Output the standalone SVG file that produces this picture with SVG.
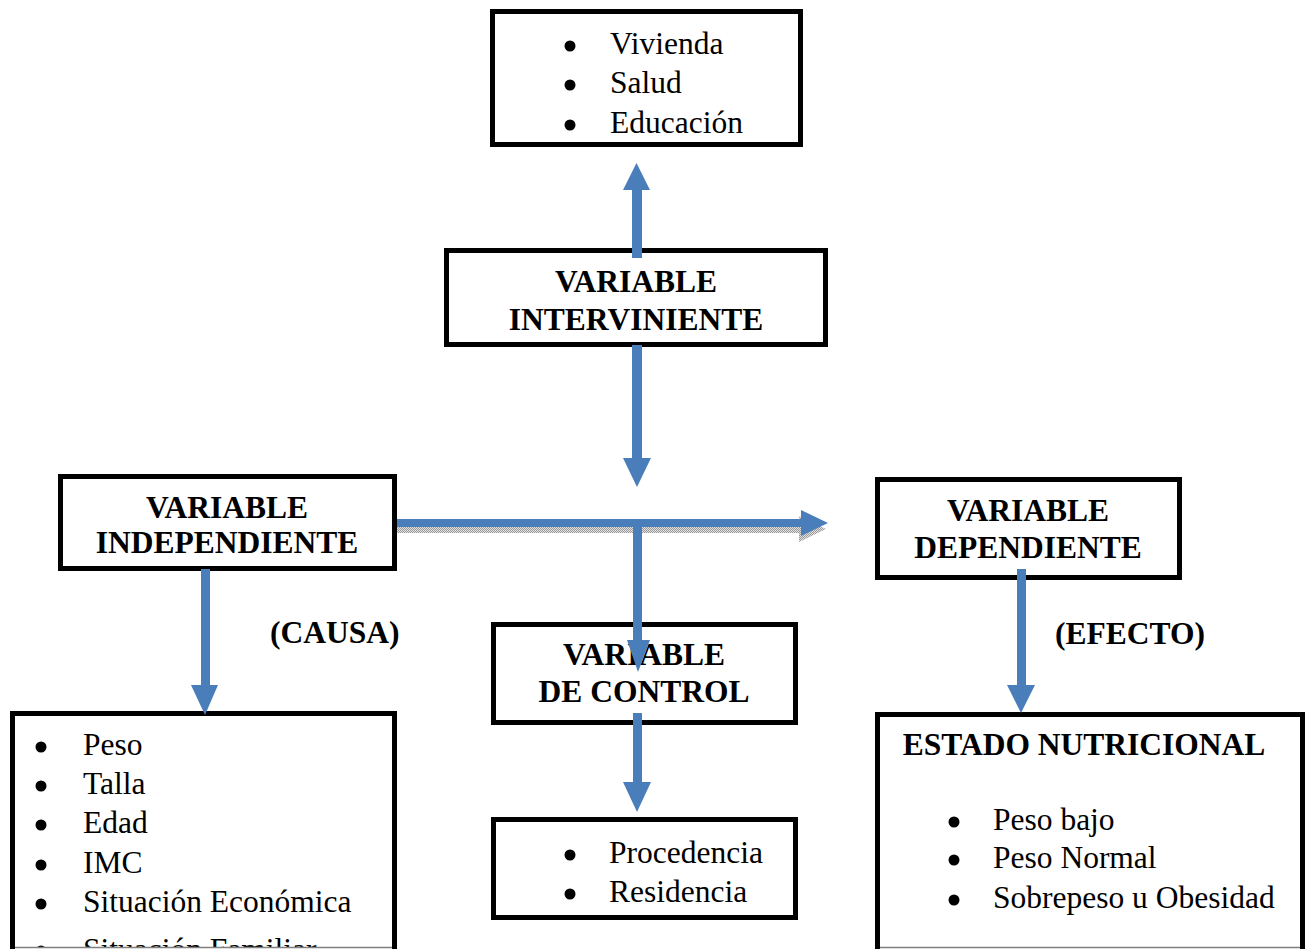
<svg xmlns="http://www.w3.org/2000/svg" width="1310" height="949" viewBox="0 0 1310 949">
<style>
.box{fill:#fff;stroke:#000;stroke-width:5}
.t{font-family:"Liberation Serif","Times New Roman",serif;font-size:31.5px;fill:#000}
.b{font-family:"Liberation Serif","Times New Roman",serif;font-size:31.5px;font-weight:bold;fill:#000;text-anchor:middle}
.bl{font-family:"Liberation Serif","Times New Roman",serif;font-size:31.5px;font-weight:bold;fill:#000}
.dot{fill:#000}
.arr{fill:#4a7ebb}
.sh{fill:url(#dither)}
.edge{stroke:#808080;stroke-width:1.5}
</style>
<defs>
<pattern id="dither" width="2" height="2" patternUnits="userSpaceOnUse">
<rect width="2" height="2" fill="#e0e0e0"/>
<rect width="1" height="1" fill="#9a9a9a"/>
<rect x="1" y="1" width="1" height="1" fill="#9a9a9a"/>
</pattern>
<clipPath id="clipBottom"><rect x="0" y="0" width="1310" height="947"/></clipPath>
</defs>
<rect width="1310" height="949" fill="#fff"/>

<g id="node-intervening-list">
<rect class="box" x="492.5" y="11.5" width="308" height="133"/>
<circle class="dot" cx="570" cy="46" r="5.5"/>
<circle class="dot" cx="570" cy="85" r="5.5"/>
<circle class="dot" cx="570" cy="125" r="5.5"/>
<text class="t" x="610" y="54">Vivienda</text>
<text class="t" x="610" y="93">Salud</text>
<text class="t" x="610" y="133">Educación</text>
</g>

<g id="node-intervening">
<rect class="box" x="446.5" y="250.5" width="379" height="94"/>
<text class="b" x="636" y="292">VARIABLE</text>
<text class="b" x="636" y="330">INTERVINIENTE</text>
</g>

<g id="node-independent">
<rect class="box" x="60.5" y="476.5" width="334" height="92"/>
<text class="b" x="227" y="518">VARIABLE</text>
<text class="b" x="227" y="553">INDEPENDIENTE</text>
</g>

<g id="node-dependent">
<rect class="box" x="877.5" y="479.5" width="302" height="98"/>
<text class="b" x="1028" y="521">VARIABLE</text>
<text class="b" x="1028" y="558">DEPENDIENTE</text>
</g>

<g id="node-control">
<rect class="box" x="493.5" y="624.5" width="302" height="98"/>
<text class="b" x="644" y="665">VARIABLE</text>
<text class="b" x="644" y="702">DE CONTROL</text>
</g>

<g id="node-control-list">
<rect class="box" x="493.5" y="819.5" width="302" height="98"/>
<circle class="dot" cx="570" cy="855" r="5.5"/>
<circle class="dot" cx="570" cy="894" r="5.5"/>
<text class="t" x="609" y="863">Procedencia</text>
<text class="t" x="609" y="902">Residencia</text>
</g>

<g id="node-independent-list">
<rect class="box" x="12.5" y="713.5" width="382" height="260"/>
<g clip-path="url(#clipBottom)">
<circle class="dot" cx="41" cy="747" r="5.5"/>
<circle class="dot" cx="41" cy="786" r="5.5"/>
<circle class="dot" cx="41" cy="825" r="5.5"/>
<circle class="dot" cx="41" cy="865" r="5.5"/>
<circle class="dot" cx="41" cy="904" r="5.5"/>
<circle class="dot" cx="41" cy="951" r="5.5"/>
<text class="t" x="83" y="755">Peso</text>
<text class="t" x="83" y="794">Talla</text>
<text class="t" x="83" y="833">Edad</text>
<text class="t" x="83" y="873">IMC</text>
<text class="t" x="83" y="912">Situación Económica</text>
<text class="t" x="83" y="960">Situación Familiar</text>
</g>
<rect x="15" y="947" width="377" height="2" fill="#fff"/>
<line class="edge" x1="15" y1="947.5" x2="392" y2="947.5"/>
</g>

<g id="node-dependent-list">
<rect class="box" x="877.5" y="714.5" width="425" height="260"/>
<text class="b" x="1084" y="755">ESTADO NUTRICIONAL</text>
<circle class="dot" cx="954" cy="822" r="5.5"/>
<circle class="dot" cx="954" cy="860" r="5.5"/>
<circle class="dot" cx="954" cy="900" r="5.5"/>
<text class="t" x="993" y="830">Peso bajo</text>
<text class="t" x="993" y="868">Peso Normal</text>
<text class="t" x="993" y="908">Sobrepeso u Obesidad</text>
<rect x="880" y="947" width="420" height="2" fill="#fff"/>
<line class="edge" x1="880" y1="947.5" x2="1300" y2="947.5"/>
</g>

<g id="labels">
<text class="bl" x="270" y="643">(CAUSA)</text>
<text class="bl" x="1055" y="644">(EFECTO)</text>
</g>

<g id="connectors">
<path class="sh" d="M397,525 H799 V516 L826,529 L799,542 V533 H397 Z"/>
<path class="arr" d="M397,519 H801 V510 L828,523 L801,536 V527 H397 Z"/>
<path class="arr" d="M632,258 V190 H623 L636.5,163 L650,190 H642 V258 Z"/>
<path class="arr" d="M632,345 V458 H623 L637,487 L651,458 H642 V345 Z"/>
<path class="arr" d="M633,523 V640 H627 L638,672 L650,640 H642 V523 Z"/>
<path class="arr" d="M633,713 V782 H623 L637,812 L651,782 H642 V713 Z"/>
<path class="arr" d="M201,569 V685 H191 L205,715 L218,685 H210 V569 Z"/>
<path class="arr" d="M1017,569 V685 H1007 L1021,713 L1035,685 H1026 V569 Z"/>
</g>
</svg>
